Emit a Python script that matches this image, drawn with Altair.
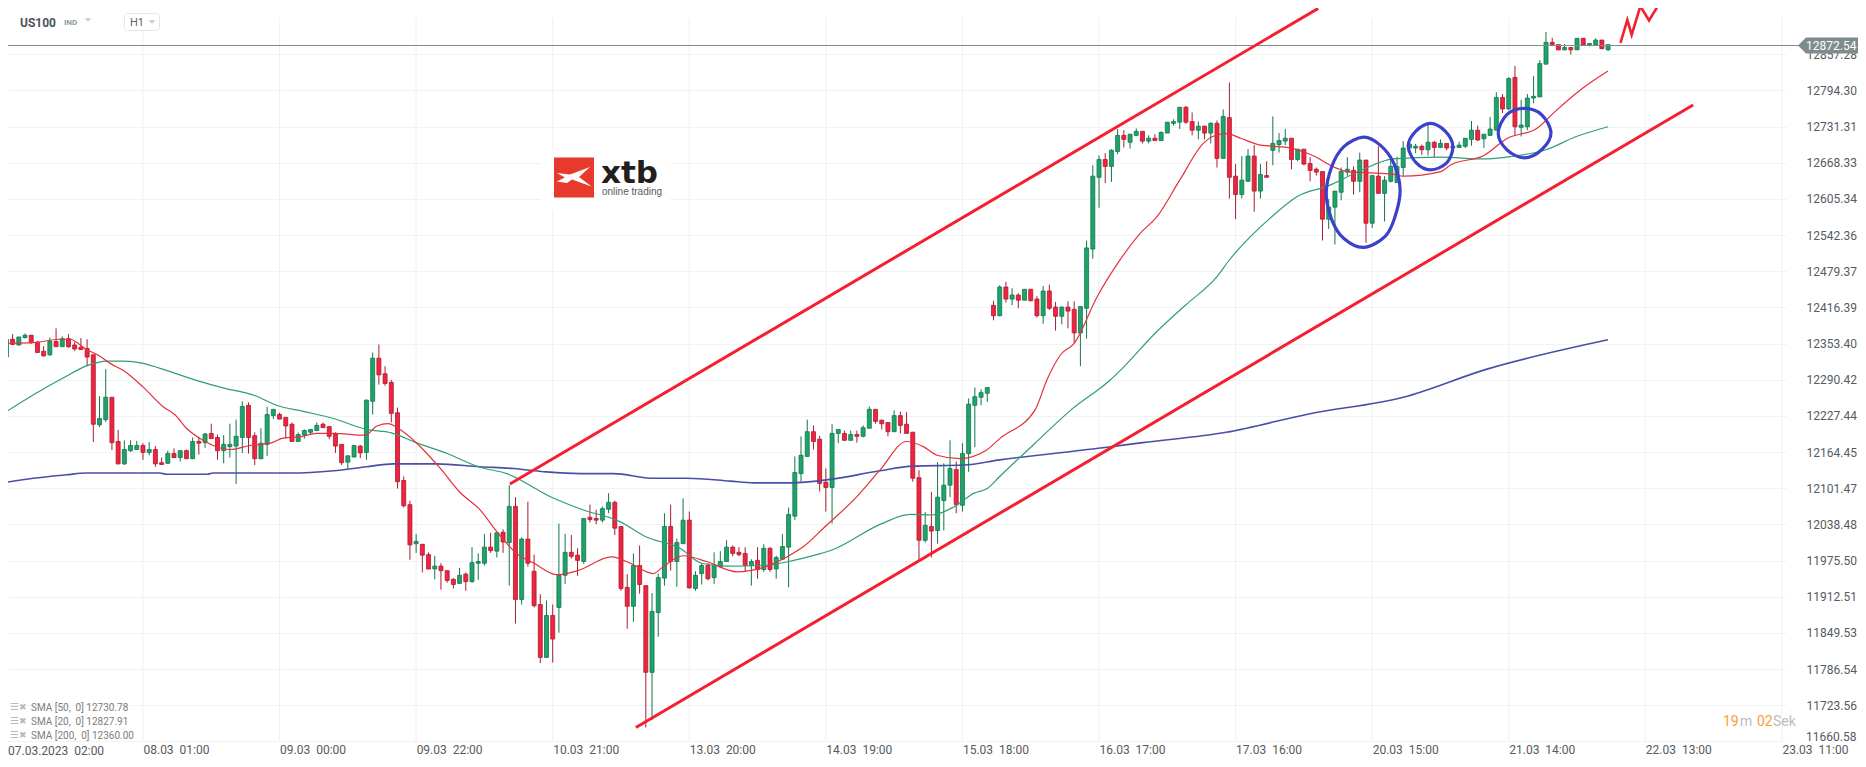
import altair as alt
import pandas as pd

opens = [12330,12361,12351,12364,12368,12356,12340,12334,12357,12348,
12362,12351,12347,12345,12334,12212,12221,12260,12183,12144,
12167,12169,12176,12164,12169,12146,12145,12162,12155,12167,
12153,12183,12181,12197,12190,12167,12174,12175,12190,12246,
12193,12153,12178,12228,12230,12225,12213,12183,12194,12199,
12202,12213,12209,12196,12178,12147,12156,12175,12164,12253,
12328,12301,12286,12233,12115,12073,12005,12004,11986,11961,
11966,11958,11943,11936,11952,11939,11971,11971,11999,11992,
12025,12007,12070,11908,12013,11957,11899,11807,11880,11894,
11950,11990,11985,11974,12051,12049,12046,12065,12077,12035,
11929,11896,11967,11932,11781,11885,11945,12035,11974,12005,
12046,11927,11953,11967,11946,11965,11974,11999,11990,11988,
11967,11976,11960,11997,11961,11978,11999,12053,12127,12157,
12200,12187,12112,12103,12197,12197,12185,12195,12192,12206,
12239,12220,12216,12200,12228,12213,12199,12120,12011,12035,
12028,12080,12107,12134,12072,12162,12246,12260,12267,
12420,12402,12452,12431,12438,12429,12448,12431,12402,12445,12417,
12401,12417,12413,12372,12415,12518,12643,12674,12662,12688,
12716,12704,12716,12723,12706,12711,12707,12720,12737,12739,
12765,12740,12725,12732,12720,12737,12676,12747,12645,12613,
12636,12680,12619,12646,12690,12700,12706,12711,12674,12692,
12667,12657,12653,12570,12591,12617,12652,12655,12636,12673,
12563,12645,12615,12636,12634,12660,12694,12694,12697,12691,
12704,12695,12702,12694,12695,12697,12709,12725,12710,12716,
12725,12782,12762,12817,12730,12731,12781,12783,12840,12878,
12874,12865,12869,12865,12885,12873,12874,12882,12865]
closes = [12361,12352,12365,12368,12355,12338,12332,12357,12348,12362,
12348,12344,12343,12330,12213,12223,12260,12181,12144,12169,
12176,12176,12164,12169,12144,12143,12162,12155,12167,12153,
12183,12180,12196,12188,12167,12178,12178,12192,12244,12190,
12153,12180,12230,12239,12222,12210,12183,12195,12202,12204,
12211,12207,12192,12175,12146,12158,12176,12163,12255,12328,
12299,12284,12232,12113,12071,12003,12009,11985,11961,11966,
11958,11941,11934,11950,11939,11972,11974,11999,11993,12024,
12008,12070,11908,12013,11971,11897,11807,11880,11839,11950,
11990,11983,11976,12049,12047,12046,12066,12077,12032,11927,
11896,11967,11934,11781,11887,11946,12035,11974,12007,12046,
11928,11950,11967,11944,11968,11974,11999,11988,11986,11967,
11974,11960,11997,11960,11981,12000,12056,12129,12159,12200,
12183,12110,12103,12197,12204,12185,12195,12192,12207,12239,
12218,12214,12200,12228,12211,12197,12119,12011,12037,12027,
12086,12107,12136,12073,12162,12248,12261,12268,12277,
12402,12452,12431,12438,12429,12448,12428,12402,12445,12415,12401,
12417,12410,12372,12418,12520,12645,12674,12662,12690,12716,
12709,12718,12723,12706,12711,12707,12721,12739,12740,12765,
12739,12725,12732,12720,12737,12676,12749,12643,12613,12638,
12680,12619,12648,12643,12702,12707,12711,12674,12692,12666,
12655,12652,12570,12591,12619,12653,12657,12636,12673,12563,
12646,12615,12638,12662,12662,12694,12701,12697,12691,12704,
12695,12702,12694,12697,12699,12711,12725,12708,12718,12727,
12782,12762,12815,12731,12734,12781,12784,12841,12878,12874,
12865,12869,12865,12885,12873,12876,12882,12867,12874]
highs = [12361,12370,12365,12371,12368,12358,12349,12364,12380,12366,
12370,12356,12363,12361,12334,12262,12309,12260,12203,12185,
12185,12184,12180,12182,12175,12155,12167,12171,12167,12169,
12190,12191,12198,12214,12195,12194,12214,12221,12253,12251,
12199,12206,12243,12239,12233,12225,12216,12199,12204,12204,
12216,12216,12209,12199,12178,12159,12176,12177,12256,12338,
12352,12314,12290,12242,12122,12080,12022,12004,11990,11984,
11971,11958,11945,11963,11955,11999,11988,12022,12024,12024,
12030,12107,12086,12016,12078,11986,11917,11906,11899,12040,
12022,12020,11997,12049,12073,12064,12070,12093,12080,12035,
11952,11988,12002,11932,11919,11953,12058,12073,12014,12084,
12061,11957,11971,11971,11990,11992,12011,12002,11999,11999,
11978,11999,12004,11999,11984,12022,12068,12157,12192,12221,
12211,12193,12136,12213,12204,12202,12202,12202,12211,12244,
12239,12221,12216,12237,12235,12234,12200,12133,12060,12095,
12147,12145,12185,12148,12180,12258,12277,12274,12277,
12428,12455,12461,12450,12441,12448,12448,12436,12454,12456,12426,
12418,12427,12427,12418,12533,12664,12681,12685,12692,12727,
12725,12718,12728,12723,12716,12718,12723,12739,12744,12765,
12767,12756,12740,12733,12739,12742,12761,12808,12666,12680,
12692,12699,12666,12671,12749,12720,12727,12711,12692,12692,
12678,12660,12653,12605,12619,12660,12678,12662,12686,12673,
12646,12697,12645,12681,12679,12706,12706,12701,12700,12736,
12706,12709,12702,12698,12705,12711,12741,12733,12718,12748,
12791,12788,12817,12837,12778,12788,12819,12847,12896,12886,
12874,12875,12869,12885,12885,12876,12885,12882,12874]
lows = [12322,12351,12350,12362,12353,12338,12331,12332,12348,12348,
12346,12341,12343,12314,12182,12208,12217,12168,12143,12142,
12165,12169,12151,12159,12139,12142,12144,12154,12148,12153,
12153,12160,12172,12188,12151,12145,12155,12109,12163,12162,
12142,12152,12158,12222,12222,12188,12182,12182,12188,12194,
12202,12207,12187,12163,12142,12135,12155,12154,12151,12230,
12282,12280,12216,12101,12068,11977,11989,11955,11960,11943,
11925,11937,11927,11935,11923,11937,11942,11967,11989,11981,
11989,11932,11866,11899,11965,11894,11797,11807,11798,11850,
11935,11979,11949,11970,12042,12039,12042,12058,12020,11923,
11857,11869,11918,11685,11698,11843,11932,11958,11930,12005,
11927,11923,11934,11941,11935,11963,11974,11983,11983,11957,
11932,11944,11956,11956,11944,11978,11929,12046,12113,12157,
12169,12096,12061,12040,12180,12185,12185,12181,12190,12206,
12214,12204,12192,12200,12197,12197,12113,11977,12007,11981,
12005,12028,12086,12058,12061,12130,12173,12246,12252,
12394,12401,12425,12420,12415,12429,12427,12399,12388,12412,12376,
12387,12380,12354,12314,12362,12501,12590,12633,12635,12683,
12695,12693,12716,12702,12702,12707,12707,12720,12733,12727,
12736,12716,12709,12709,12702,12660,12676,12606,12570,12606,
12636,12583,12606,12643,12664,12686,12699,12657,12671,12664,
12636,12646,12533,12553,12526,12603,12645,12613,12617,12529,
12555,12615,12566,12634,12634,12646,12691,12685,12682,12681,
12678,12694,12690,12692,12694,12694,12698,12706,12694,12715,
12725,12755,12760,12715,12714,12725,12772,12783,12840,12873,
12864,12864,12857,12865,12872,12871,12873,12866,12863]

sma50_i = [0,4.3,9.2,13,16.2,19,22,26,31,35,40,43.5,48,52.7,58,62,66,71,76,80.6,88,92.6,98.9,103,108.5,112,116,122,126,130.5,133,141,145.6,149,152.6,155.9,158,160,165.7,171.5,177.8,180,185,190,195,197,204,208,212.9,218,223.4,231,238,242.3,248,252.9,258]
sma50_v = [12235,12264,12294,12315,12323,12323,12319,12306,12288,12276,12263,12246,12235,12223,12204,12198,12181,12162,12139,12127,12085,12065,12043,12017,11997,11971,11966,11967,11974,11986,11994,12040,12056,12055,12069,12093,12101,12122,12180,12238,12290,12313,12371,12421,12470,12499,12576,12610,12628,12654,12675,12678,12675,12679,12691,12714,12731]
sma20_i = [0,4.3,8.6,10.2,12.9,15,16.7,18.8,22,25.3,27.2,29,31.2,33.3,36,39.2,42.5,44.6,47.3,50,52.7,57.8,59.7,61.5,63.1,66.1,69.9,73,76.3,79,82.2,85,88.7,92,97.5,100.5,104.2,105.8,109,112.8,117.7,121.4,125.7,128.4,131.6,137,140.7,145,147.7,149.9,153.6,157.9,160,165.7,167.6,169.8,172,175.7,179,182.6,185.3,189,192.8,194.5,196.6,198.8,202,206.3,210.6,213.8,216,219,223.5,225,231,232.7,238,241.8,246.5,249.4,253.9,258]
sma20_v = [12354,12355,12361,12361,12343,12332,12319,12307,12278,12243,12229,12206,12188,12176,12169,12176,12180,12189,12191,12197,12197,12194,12210,12214,12206,12180,12136,12095,12064,12026,11988,11971,11951,11958,11982,11971,11953,11965,11984,11974,11956,11962,11982,12000,12032,12087,12133,12183,12174,12159,12153,12168,12188,12238,12290,12334,12354,12435,12493,12545,12574,12638,12702,12715,12719,12711,12699,12695,12680,12661,12653,12651,12648,12645,12653,12665,12681,12711,12728,12757,12798,12828]
sma200_i = [0,4.3,9.7,12.9,24.7,25.8,32.3,33.3,45.7,52.7,58,62.3,69.3,76.3,81.7,87,92.4,97.8,104.2,109.6,116.6,120.3,126.2,132.7,140.7,146,154.2,160,177.3,183,196.5,209.8,225,238.5,258]
sma200_v = [12112,12119,12125,12128,12128,12126,12126,12128,12128,12132,12139,12144,12144,12139,12136,12130,12127,12127,12119,12119,12114,12111,12111,12117,12132,12140,12142,12151,12173,12181,12199,12231,12260,12309,12360]

upper_i, upper_v = [81.1, 211.3], [12109, 12937]
lower_i, lower_v = [101.4, 271.7], [11685, 12769]
scribble_i = [260, 261.1, 261.8, 263.2, 264.6, 266.5]
scribble_v = [12877, 12917, 12891, 12941, 12916, 12950]
big_i = [218.6,221.3,223.5,224.5,223.7,222.1,218.6,215.4,213.5,212.6,213.5,215.4]
big_v = [12713,12699,12667,12621,12575,12540,12521,12537,12569,12615,12662,12696]
small_i = [229.4,231.8,233,232,229.4,227.1,225.8,227]
small_v = [12737,12723,12697,12668,12656,12668,12697,12723]
third_i = [244.5,247.3,248.8,247.3,244.5,241.7,240.3,241.7]
third_v = [12763,12752,12720,12691,12677,12691,12720,12752]

floor_price = 11660.58
y_ticks = [11723.56,11786.54,11849.53,11912.51,11975.50,12038.48,12101.47,12164.45,12227.44,12290.42,12353.40,12416.39,12479.37,12542.36,12605.34,12668.33,12731.31,12794.30,12857.28]
first_label = "07.03.2023\u00a0\u00a002:00"
x_labels = ["08.03\u00a0\u00a001:00","09.03\u00a0\u00a000:00","09.03\u00a0\u00a022:00","10.03\u00a0\u00a021:00","13.03\u00a0\u00a020:00","14.03\u00a0\u00a019:00","15.03\u00a0\u00a018:00","16.03\u00a0\u00a017:00","17.03\u00a0\u00a016:00","20.03\u00a0\u00a015:00","21.03\u00a0\u00a014:00","22.03\u00a0\u00a013:00","23.03\u00a0\u00a011:00"]
x_ticks = [22 * (k + 1) for k in range(len(x_labels))]
last_price = 12872.54

n = len(opens)
assert n == len(closes) == len(highs) == len(lows)
df = pd.DataFrame({"i": range(n), "o": opens, "c": closes, "h": highs, "l": lows})
df["dir"] = ["up" if c >= o else "down" for o, c in zip(opens, closes)]

xs = alt.Scale(domain=[0.258, 286.66], nice=False, zero=False, padding=0)
ys = alt.Scale(domain=[floor_price, 12937.8], nice=False, zero=False, padding=0)
W, H = 1778, 733.5
FONT = "Roboto"
GRID = "#f1f2f2"

label_expr = "[" + ",".join("'" + s + "'" for s in x_labels) + "][datum.value/22-1]"
x_axis = alt.Axis(values=x_ticks, labelExpr=label_expr, grid=False, ticks=False, domain=False, title=None,
                  labelAlign="left", labelFont=FONT, labelFontSize=12, labelColor="#555b60",
                  labelPadding=3, labelOverlap=False, labelFlush=False, labelBound=False)
y_axis = alt.Axis(values=y_ticks, format=".2f", orient="right", grid=True, gridColor=GRID, gridWidth=1.2,
                  ticks=False, domain=False, title=None, labelFont=FONT, labelFontSize=12, labelColor="#555b60",
                  labelPadding=20, labelOverlap=False, labelFlush=False, labelBound=False)
X = lambda f, **k: alt.X(f, type="quantitative", scale=xs, axis=x_axis, **k)
Y = lambda f, **k: alt.Y(f, type="quantitative", scale=ys, axis=y_axis, **k)
cscale = alt.Scale(domain=["up", "down"], range=["#1fa36b", "#f2233f"])
sscale = alt.Scale(domain=["up", "down"], range=["#0f774c", "#a81c30"])

vgrid_df = pd.DataFrame({"i": x_ticks, "t": 12921.0, "b": floor_price})
vgrid = alt.Chart(vgrid_df).mark_rule(color=GRID, strokeWidth=1.2).encode(
    x=X("i:Q"), y=Y("t:Q"), y2="b:Q")
floor_grid = alt.Chart(pd.DataFrame({"p": [floor_price]})).mark_rule(color=GRID, strokeWidth=1.2).encode(
    y=Y("p:Q"), x=alt.value(-8), x2=alt.value(W))

wicks = alt.Chart(df).mark_rule(strokeWidth=1).encode(
    x=X("i:Q"), y=Y("h:Q"), y2="l:Q",
    color=alt.Color("dir:N", scale=sscale, legend=None))
bodies = alt.Chart(df).mark_bar(width=4, strokeWidth=0.8).encode(
    x=X("i:Q"), y=Y("o:Q"), y2="c:Q",
    fill=alt.Fill("dir:N", scale=cscale, legend=None),
    stroke=alt.Stroke("dir:N", scale=sscale, legend=None))


def line(iv, vv, color, width, interp="linear", opacity=1.0):
    d = pd.DataFrame({"i": iv, "v": vv, "k": range(len(iv))})
    return alt.Chart(d).mark_line(color=color, strokeWidth=width, interpolate=interp, opacity=opacity).encode(
        x=X("i:Q"), y=Y("v:Q"), order="k:Q")


def txt(s, px, py, size=12, color="#555", weight="normal", font=FONT, align="left", baseline="middle"):
    return alt.Chart(alt.Data(values=[{}])).mark_text(
        fontSize=size, color=color, fontWeight=weight, font=font, align=align, baseline=baseline
    ).encode(x=alt.value(px - 8), y=alt.value(py - 8), text=alt.value(s))


def box(x0, y0, x1, y1, **kw):
    return alt.Chart(alt.Data(values=[{}])).mark_rect(**kw).encode(
        x=alt.value(x0 - 8), x2=alt.value(x1 - 8), y=alt.value(y0 - 8), y2=alt.value(y1 - 8))


def sym(path, px, py, size, color):
    return alt.Chart(alt.Data(values=[{}])).mark_point(
        shape=path, size=size, filled=True, fill=color, opacity=1
    ).encode(x=alt.value(px - 8), y=alt.value(py - 8))


price = alt.Chart(pd.DataFrame({"p": [last_price]})).mark_rule(color="#7f8c8b", strokeWidth=1.2).encode(
    y=Y("p:Q"), x=alt.value(-8), x2=alt.value(W + 14))

layers = [
    vgrid, floor_grid,
    box(541, 150, 670, 210, color="white"),
    wicks, bodies,
    line(sma200_i, sma200_v, "#4a4fa6", 1.6, "monotone"),
    line(sma50_i, sma50_v, "#2f9e78", 1.2, "monotone"),
    line(sma20_i, sma20_v, "#e5313c", 1.2, "monotone"),
    price,
    line(upper_i, upper_v, "#f5202f", 3),
    line(lower_i, lower_v, "#f5202f", 3),
    line(scribble_i, scribble_v, "#f5202f", 2.6),
    line(big_i, big_v, "#3c41cc", 3.2, "cardinal-closed"),
    line(small_i, small_v, "#3c41cc", 3.2, "cardinal-closed"),
    line(third_i, third_v, "#3c41cc", 3.2, "cardinal-closed"),
    # price tag
    box(1806, 37.5, 1866, 53.5, color="#7f8c8d"),
    sym("M0,-1L0,1L-1,0Z", 1806, 45.5, 256, "#7f8c8d"),
    txt("12872.54", 1806, 46, 12, "white"),
    txt("11660.58", 1806, 737, 12, "#555b60"),
    txt(first_label, 8, 751, 12, "#555b60"),
    # header
    txt("US100", 20, 23, 12, "#4a5359", "bold"),
    txt("IND", 64, 23, 8, "#8e9aa0", "bold"),
    sym("M-1,-0.5L1,-0.5L0,0.5Z", 88, 20, 50, "#c8cccf"),
    box(124.5, 13.5, 159.5, 30.5, fill="white", stroke="#e3e5e6", cornerRadius=3),
    txt("H1", 130, 23, 11, "#5c6468"),
    sym("M-1,-0.5L1,-0.5L0,0.5Z", 152, 22, 50, "#c8cccf"),
    # logo
    box(554, 157.5, 594, 197.5, color="#e8392d"),
    sym("M-.85,-.2L-.2,-.12L.8,-.5L.25,0L.88,.47L-.1,.12L-.35,.3L-.87,.22L-.45,.02Z", 574, 177, 1600, "white"),
    txt("xtb", 601, 182.7, 31, "#231f20", "bold", "DejaVu Sans", baseline="alphabetic"),
    txt("online trading", 602, 192, 10, "#5a5a5a", "normal", "Liberation Sans"),
    # indicator legend
    txt("SMA [50,\u00a0 0] 12730.78", 31, 708, 10, "#7d7d7d"),
    txt("SMA [20,\u00a0 0] 12827.91", 31, 722, 10, "#7d7d7d"),
    txt("SMA [200,\u00a0 0] 12360.00", 31, 736, 10, "#7d7d7d"),
]
for yy in (706.5, 720.5, 734.5):
    layers.append(txt("\u2630", 10, yy, 10, "#b9b9b9", font="DejaVu Sans"))
    layers.append(txt("\u2716", 19, yy, 9, "#b9b9b9", font="DejaVu Sans"))
layers += [
    txt("19", 1723, 722, 14, "#f7a233"),
    txt("m", 1740, 722, 14, "#bdbdbd"),
    txt("02", 1757, 722, 14, "#f7a233"),
    txt("Sek", 1773, 722, 14, "#bdbdbd"),
]

chart = alt.layer(*layers).properties(
    width=W, height=H,
    autosize=alt.AutoSizeParams(type="none"),
    padding={"left": 0, "top": 0, "right": 72, "bottom": 18},
    background="white",
).configure_view(stroke=None)

chart.save("out.html", embed_options={"renderer": "svg", "actions": False})
